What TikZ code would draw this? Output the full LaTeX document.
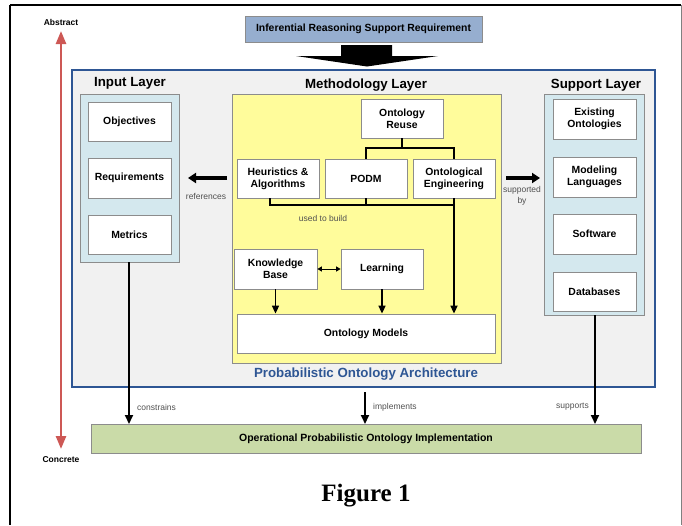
\documentclass[tikz,border=0pt]{standalone}
\usepackage{fontspec}
\setmainfont{Liberation Sans}
\newfontfamily\figfont{Liberation Serif}
\usetikzlibrary{arrows.meta}
\definecolor{irsblue}{RGB}{150,174,207}
\definecolor{archfill}{RGB}{241,241,241}
\definecolor{archblue}{RGB}{46,86,148}
\definecolor{layerblue}{RGB}{212,232,238}
\definecolor{methyellow}{RGB}{255,252,155}
\definecolor{implgreen}{RGB}{202,219,168}
\definecolor{redarrow}{RGB}{205,88,85}
\definecolor{boxborder}{RGB}{140,140,140}
\definecolor{labgray}{RGB}{80,80,80}
\tikzset{
  box/.style={draw=boxborder, line width=0.8pt, fill=white, align=center, inner sep=0pt,
    font=\fontsize{10.4}{12}\selectfont\bfseries},
  layerbox/.style={draw=boxborder, line width=0.8pt, inner sep=0pt},
  title/.style={font=\fontsize{13.3}{15}\selectfont\bfseries, inner sep=0pt},
  smalllab/.style={font=\fontsize{8.5}{10}\selectfont, text=labgray, inner sep=0pt, align=center},
  conn/.style={line width=1.6pt, black},
  connarrow/.style={line width=1.6pt, black, -{Triangle[length=8pt,width=7pt]}},
  bigarrow/.style={line width=3.5pt, black, -{Triangle[length=8pt,width=10pt]}},
  downarrow/.style={line width=1.9pt, black, -{Triangle[length=9pt,width=8pt]}},
}
\begin{document}
\begin{tikzpicture}[x=1pt,y=-1pt]
\useasboundingbox (0,0) rectangle (682,525);
% page frame
\draw[line width=2pt, black] (10,5) -- (681,5);
\draw[line width=1.5pt, black] (10,5) -- (10,525);
\draw[line width=1pt, gray] (681,5) -- (681,525);

% top requirement
\node[box, fill=irsblue, minimum width=237pt, minimum height=26pt] (irs) at (363.5,29) {Inferential Reasoning Support Requirement};
\fill[black] (341,45) -- (392,45) -- (392,56) -- (438,56) -- (367,66.5) -- (296,56) -- (341,56) -- cycle;

% architecture frame
\node[draw=archblue, line width=2pt, fill=archfill, minimum width=583pt, minimum height=317pt, inner sep=0pt] (arch) at (363.5,228.5) {};

% input layer
\node[title] (inputt) at (130,83) {Input Layer};
\node[layerbox, fill=layerblue, minimum width=99pt, minimum height=168pt] (input) at (129.5,178) {};
\node[box, minimum width=83pt, minimum height=39pt] (obj) at (129.5,121.5) {Objectives};
\node[box, minimum width=83pt, minimum height=40pt] (req) at (129.5,178) {Requirements};
\node[box, minimum width=83pt, minimum height=39pt] (met) at (129.5,234.5) {Metrics};

% methodology layer
\node[title] (metht) at (366,85) {Methodology Layer};
\node[layerbox, fill=methyellow, minimum width=269pt, minimum height=269pt] (meth) at (366.5,228.5) {};
\node[box, minimum width=82pt, minimum height=39pt] (reuse) at (402,118.5) {Ontology\\Reuse};
\node[box, minimum width=82pt, minimum height=39pt] (heur) at (278,178.5) {Heuristics \&\\Algorithms};
\node[box, minimum width=82pt, minimum height=39pt] (podm) at (366,178.5) {PODM};
\node[box, minimum width=82pt, minimum height=39pt] (oeng) at (454,178.5) {Ontological\\Engineering};
\node[box, minimum width=83pt, minimum height=40pt] (kb) at (275.5,269) {Knowledge\\Base};
\node[box, minimum width=82pt, minimum height=40pt] (learn) at (382,269) {Learning};
\node[box, minimum width=258pt, minimum height=39pt] (models) at (366,333.5) {Ontology Models};

\coordinate (rj) at (402,148);
\draw[conn] (reuse.south) -- (rj);
\draw[conn] (podm.north) -- (podm.north |- rj) -- (oeng.north |- rj) -- (oeng.north);
\coordinate (hb) at (270,198);
\coordinate (hj) at (270,205);
\coordinate (oj) at (454,205);
\coordinate (bj) at (366,205);
\draw[conn] (hb) -- (hj) -- (oj);
\draw[conn] (podm.south) -- (bj);
\draw[connarrow] (oeng.south) -- (oeng.south |- models.north);
\node[smalllab] (used) at (323,218) {used to build};
\draw[line width=1pt, {Triangle[length=4.5pt,width=5pt]}-{Triangle[length=4.5pt,width=5pt]}] (kb.east) -- (learn.west);
\draw[connarrow] (kb.south) -- (kb.south |- models.north);
\draw[connarrow] (learn.south) -- (learn.south |- models.north);

% support layer
\node[title] (supt) at (596,85) {Support Layer};
\node[layerbox, fill=layerblue, minimum width=100pt, minimum height=221pt] (support) at (594,204.5) {};
\node[box, minimum width=83pt, minimum height=40pt] (exo) at (594.5,119) {Existing\\Ontologies};
\node[box, minimum width=83pt, minimum height=40pt] (mlang) at (594.5,177) {Modeling\\Languages};
\node[box, minimum width=83pt, minimum height=40pt] (soft) at (594.5,234) {Software};
\node[box, minimum width=83pt, minimum height=39pt] (db) at (594.5,291.5) {Databases};

% side arrows
\coordinate (refa) at (227,178);
\coordinate (refb) at (188,178);
\draw[bigarrow] (refa) -- (refb);
\node[smalllab] (reflab) at (206,196) {references};
\coordinate (supa) at (506,178);
\coordinate (supb) at (540,178);
\draw[bigarrow] (supa) -- (supb);
\node[smalllab, font=\fontsize{8.5}{11}\selectfont] (suplab) at (522,196) {supported\\by};

\node[title, text=archblue] (poa) at (366,374) {Probabilistic Ontology Architecture};

% implementation
\node[box, fill=implgreen, minimum width=550pt, minimum height=29pt, font=\fontsize{10.5}{12}\selectfont\bfseries] (impl) at (366,438.5) {Operational Probabilistic Ontology Implementation};
\coordinate (ia) at (129,262);
\coordinate (ib) at (129,424);
\coordinate (ma) at (365,392);
\coordinate (mb) at (365,424);
\coordinate (sa) at (595,315);
\coordinate (sb) at (595,424);
\draw[downarrow] (ia) -- (ib);
\draw[downarrow] (ma) -- (mb);
\draw[downarrow] (sa) -- (sb);
\node[smalllab, anchor=west] (lcon) at (137,407) {constrains};
\node[smalllab, anchor=west] (limp) at (373,407) {implements};
\node[smalllab, anchor=east] (lsup) at (589,407) {supports};

% abstract-concrete axis
\node[font=\fontsize{8.5}{10}\selectfont\bfseries, inner sep=0pt] (abs) at (61,22) {Abstract};
\node[font=\fontsize{8.5}{10}\selectfont\bfseries, inner sep=0pt] (con) at (61,460) {Concrete};
\coordinate (axt) at (61,31);
\coordinate (axb) at (61,449);
\draw[redarrow, line width=2.5pt, {Triangle[length=13pt,width=10pt]}-{Triangle[length=13pt,width=10pt]}] (axt) -- (axb);

% caption
\node[font=\figfont\fontsize{25}{28}\selectfont\bfseries, inner sep=0pt] (fig) at (366,496) {Figure 1};
\end{tikzpicture}
\end{document}
